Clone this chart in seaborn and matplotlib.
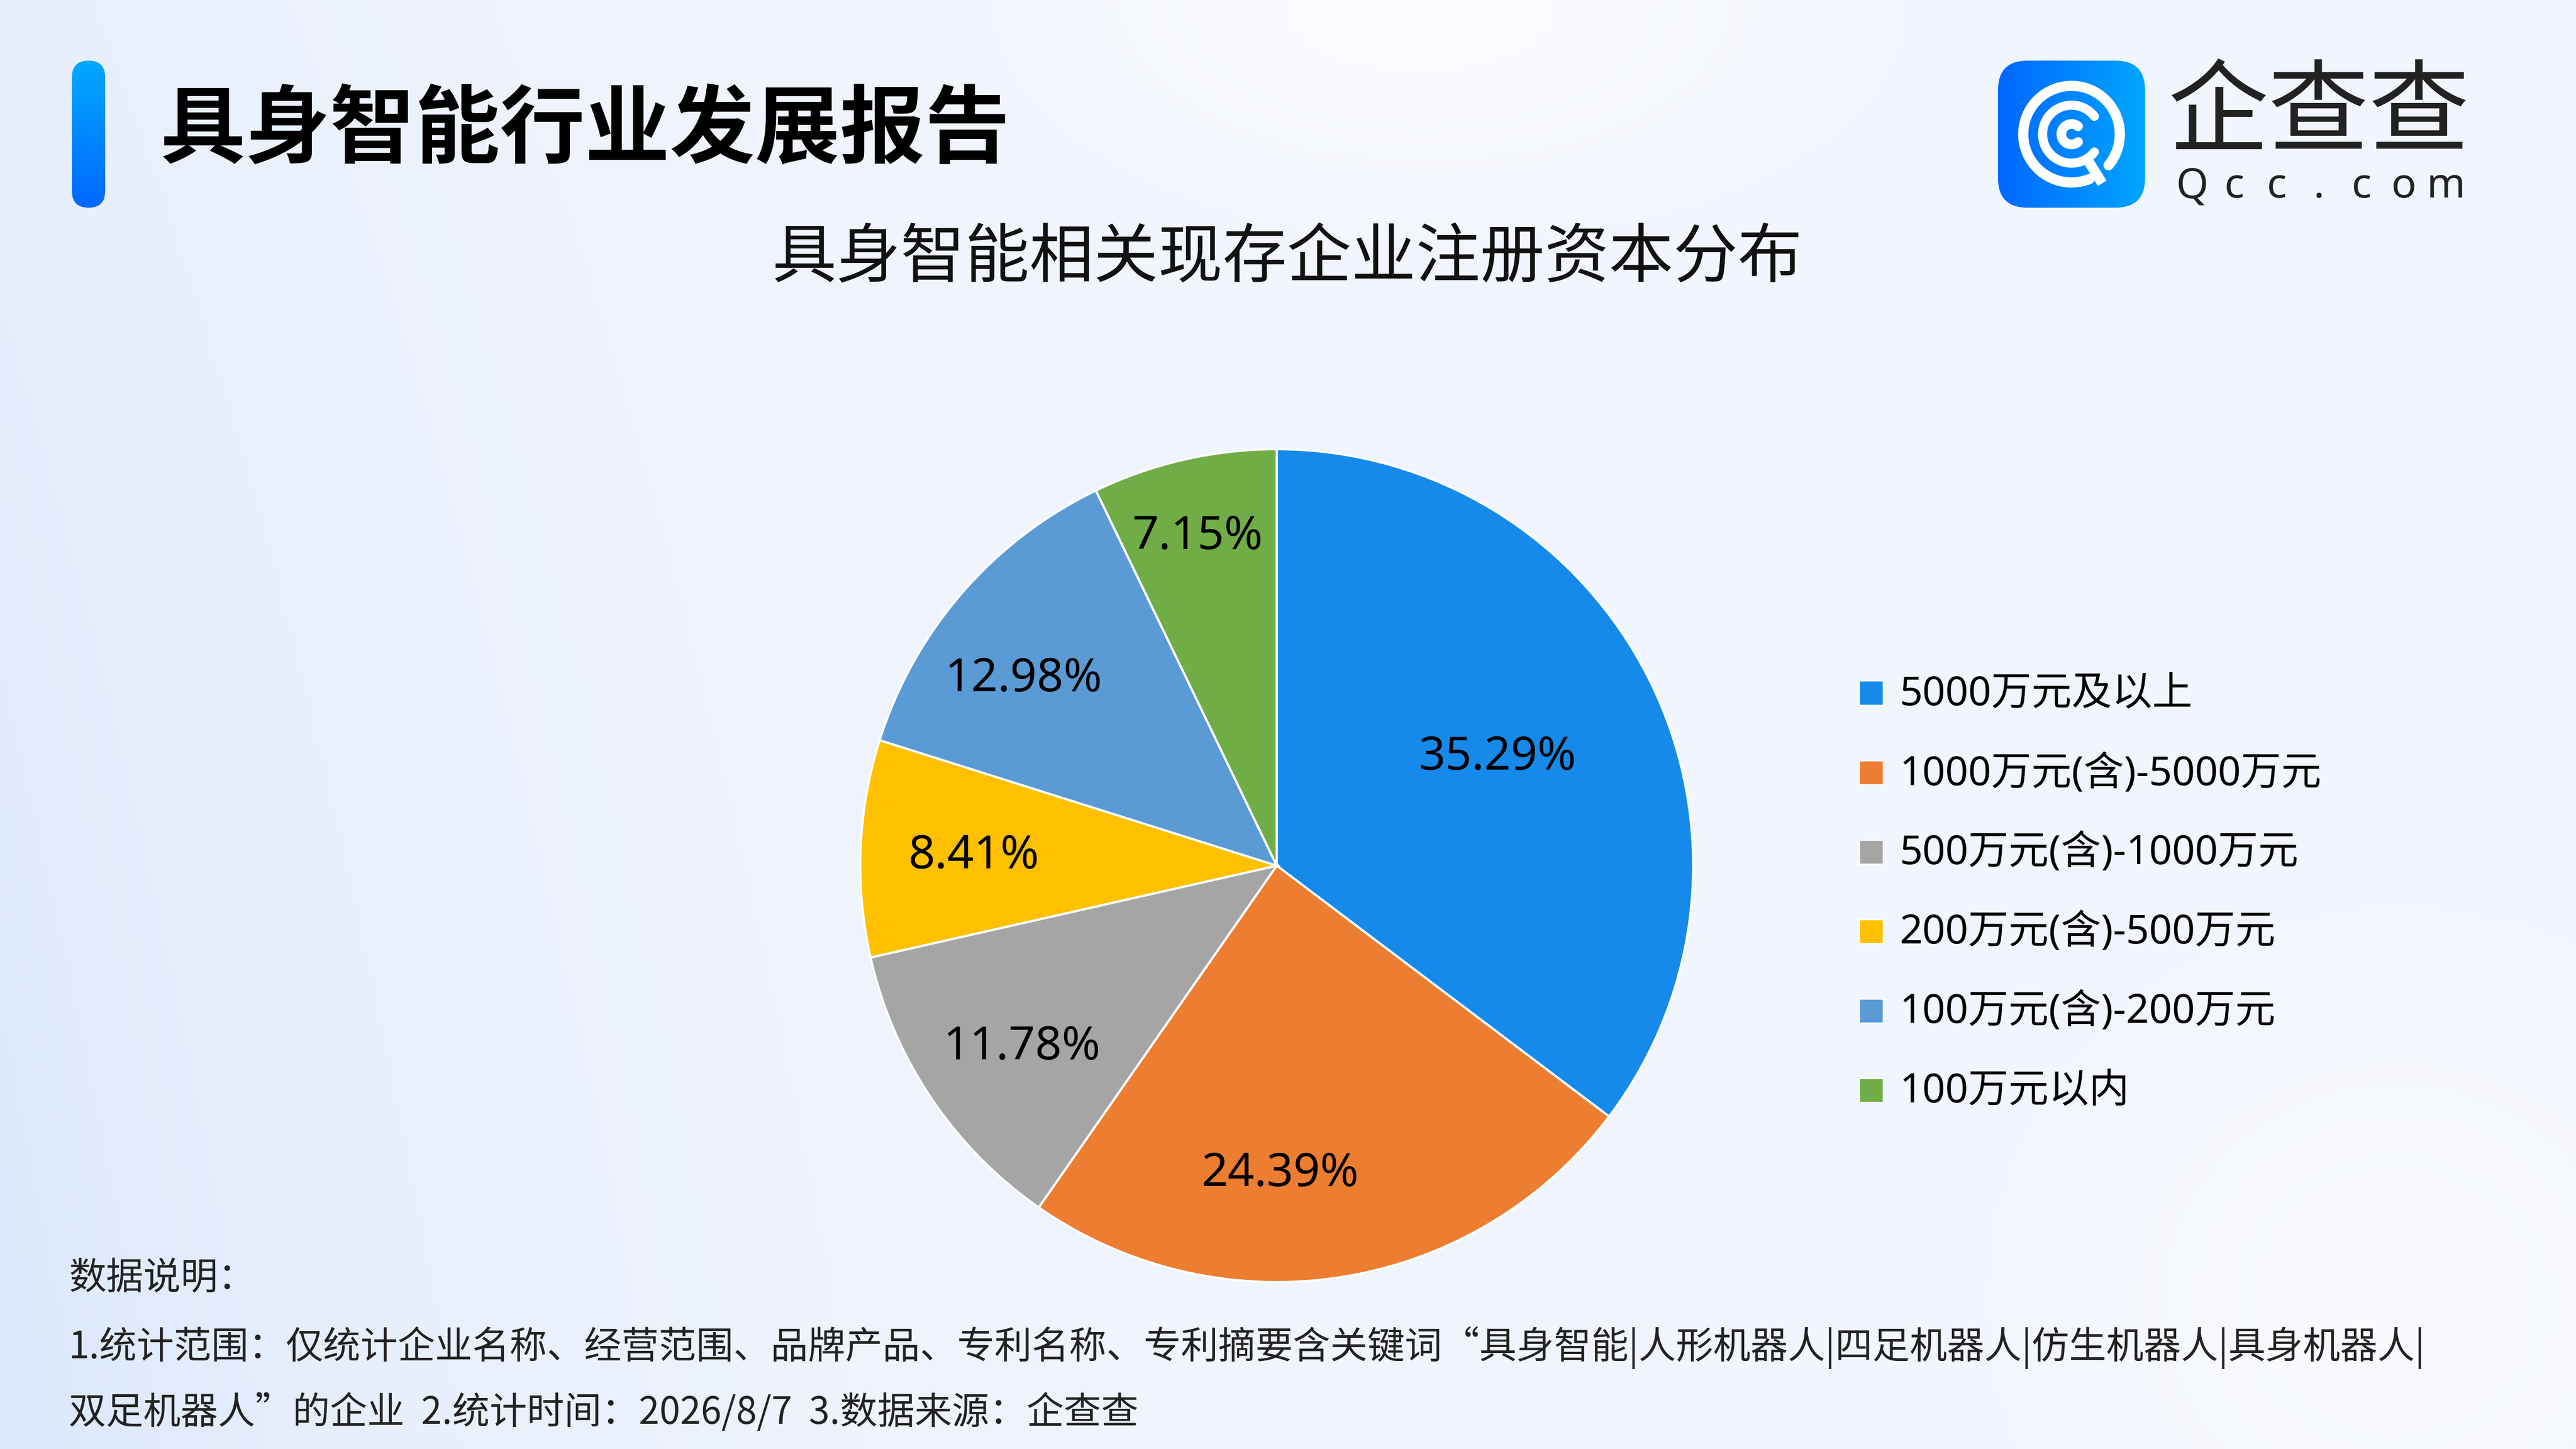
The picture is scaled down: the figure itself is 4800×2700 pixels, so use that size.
import numpy as np
import matplotlib
matplotlib.use("Agg")
import matplotlib.pyplot as plt
from matplotlib.patches import Rectangle, FancyBboxPatch, Arc
import seaborn as sns

# -----------------------------
# data
# -----------------------------
categories = ["5000万元及以上", "1000万元(含)-5000万元", "500万元(含)-1000万元",
              "200万元(含)-500万元", "100万元(含)-200万元", "100万元以内"]
shares = [35.29, 24.39, 11.78, 8.41, 12.98, 7.15]
colors = ["#168AEA", "#ED7D31", "#A5A5A5", "#FFC000", "#5B9BD5", "#70AD47"]
# label placement (best-fit style, like the original)
label_radius = [0.59, 0.741, 0.752, 0.727, 0.755, 0.811]
label_shift = [-0.4, -8.4, 1.6, 0.7, 4.6, 0.7]

title = "具身智能行业发展报告"
subtitle = "具身智能相关现存企业注册资本分布"
notes = ["数据说明：",
         "1.统计范围：仅统计企业名称、经营范围、品牌产品、专利名称、专利摘要含关键词“具身智能|人形机器人|四足机器人|仿生机器人|具身机器人|",
         "双足机器人”的企业  2.统计时间：2026/8/7  3.数据来源：企查查"]

sns.set_theme(style="white")
plt.rcParams['font.family'] = ['Noto Sans CJK SC', 'DejaVu Sans']
mixed = ['Noto Sans', 'Noto Sans CJK SC', 'DejaVu Sans']

W, H = 4800, 2700
fig = plt.figure(figsize=(16, 9), dpi=300)


def fx(px):
    return px / W


def fy(py):
    return 1 - py / H


# -----------------------------
# background gradient
# -----------------------------
yy, xx = np.mgrid[0:1:270j, 0:1:480j]
base = np.array([0.948, 0.962, 0.993])
tint = np.array([0.855, 0.905, 0.985])
w_left = np.clip(np.exp(-xx / 0.18) * (0.45 + 0.55 * yy), 0, 1)
img = base[None, None, :] * (1 - w_left[..., None]) + tint[None, None, :] * w_left[..., None]
blob = np.exp(-(((xx - 0.55) / 0.13) ** 2 + ((yy - 0.0) / 0.12) ** 2)) * 0.7
blob += np.exp(-(((xx - 0.93) / 0.12) ** 2 + ((yy - 0.9) / 0.2) ** 2)) * 0.5
img = img * (1 - blob[..., None]) + 1.0 * blob[..., None]
bg = fig.add_axes([0, 0, 1, 1])
bg.imshow(np.clip(img, 0, 1), aspect='auto', extent=[0, 1, 0, 1], origin='upper')
bg.set_xlim(0, 1)
bg.set_ylim(0, 1)
bg.axis('off')

# -----------------------------
# header: title bar + title
# -----------------------------
bar_ax = fig.add_axes([fx(134), fy(387), fx(62), 274 / H])
grad = np.linspace(0, 1, 256)[:, None]
bar_cmap = matplotlib.colors.LinearSegmentedColormap.from_list("bar", ["#00A9FF", "#0068FF"])
im = bar_ax.imshow(grad, cmap=bar_cmap, aspect='auto', extent=[0, 62, 0, 274], origin='upper')
clip = FancyBboxPatch((0, 0), 62, 274, boxstyle="round,pad=0,rounding_size=31",
                      transform=bar_ax.transData, facecolor='none', edgecolor='none')
bar_ax.add_patch(clip)
im.set_clip_path(clip)
bar_ax.set_xlim(0, 62)
bar_ax.set_ylim(0, 274)
bar_ax.axis('off')

fig.text(fx(298), fy(245), title, fontsize=38, fontweight='black', color='#000000',
         ha='left', va='center')

# -----------------------------
# logo
# -----------------------------
logo_ax = fig.add_axes([fx(3723), fy(387), fx(274), 274 / H])
lg = np.linspace(0, 1, 256)[None, :]
logo_cmap = matplotlib.colors.LinearSegmentedColormap.from_list("logo", ["#0067FF", "#00A6FF"])
im2 = logo_ax.imshow(lg, cmap=logo_cmap, aspect='auto', extent=[0, 274, 0, 274])
clip2 = FancyBboxPatch((0, 0), 274, 274, boxstyle="round,pad=0,rounding_size=55",
                       transform=logo_ax.transData, facecolor='none', edgecolor='none')
logo_ax.add_patch(clip2)
im2.set_clip_path(clip2)
px2pt = 72 / 300
c = (137, 137)
logo_ax.add_patch(Arc(c, 180, 180, theta1=-40, theta2=292, lw=19 * px2pt, color='white', capstyle='round'))
logo_ax.add_patch(Arc(c, 108, 108, theta1=38, theta2=322, lw=17 * px2pt, color='white', capstyle='round'))
logo_ax.add_patch(Arc(c, 38, 38, theta1=50, theta2=310, lw=18 * px2pt, color='white', capstyle='round'))
t = np.deg2rad(-58)
logo_ax.plot([c[0] + 62 * np.cos(t), c[0] + 108 * np.cos(t)],
             [c[1] + 62 * np.sin(t), c[1] + 108 * np.sin(t)],
             color='white', lw=19 * px2pt, solid_capstyle='butt')
logo_ax.set_xlim(0, 274)
logo_ax.set_ylim(0, 274)
logo_ax.axis('off')

fig.text(fx(4040), fy(213), "企查查", fontsize=45, color='#222222', ha='left', va='center')
for i, ch in enumerate("Qcc.com"):
    fig.text(fx(4084 + i * 79), fy(348), ch, fontsize=18.5, color='#222222', fontweight='bold',
             ha='center', va='center', family=['Noto Sans', 'DejaVu Sans'])

# -----------------------------
# subtitle
# -----------------------------
fig.text(0.4996, fy(483), subtitle, fontsize=28.8, color='#111111', ha='center', va='center')

# -----------------------------
# pie
# -----------------------------
cx, cy, R = 2379, 1613, 776
ax = fig.add_axes([fx(cx - R), fy(cy + R), fx(2 * R), 2 * R / H])
wedges, _ = ax.pie(shares, colors=colors, startangle=90, counterclock=False,
                   wedgeprops=dict(edgecolor='white', linewidth=1.0))
for wdg, val, r, sh in zip(wedges, shares, label_radius, label_shift):
    ang = np.deg2rad((wdg.theta1 + wdg.theta2) / 2 + sh)
    ax.text(r * np.cos(ang), r * np.sin(ang), f"{val:.2f}%", fontsize=20.8,
            color='#000000', ha='center', va='center', family=mixed)
ax.set_xlim(-1, 1)
ax.set_ylim(-1, 1)
ax.set_aspect('equal')
ax.axis('off')

# -----------------------------
# legend
# -----------------------------
for i, (lab, col) in enumerate(zip(categories, colors)):
    y = 1291 + i * 148
    fig.patches.append(Rectangle((fx(3464), fy(y + 22.5)), fx(45), 45 / H,
                                 transform=fig.transFigure, facecolor=col,
                                 edgecolor='white', linewidth=0.6))
    fig.text(fx(3539), fy(y + 4), lab, fontsize=18, color='#000000', ha='left', va='center',
             family=mixed)

# -----------------------------
# notes
# -----------------------------
for txt, y in zip(notes, [2383, 2511, 2633]):
    fig.text(fx(128), fy(y), txt, fontsize=16.7, color='#222222', ha='left', va='center')

fig.savefig("out.png", dpi=300)
